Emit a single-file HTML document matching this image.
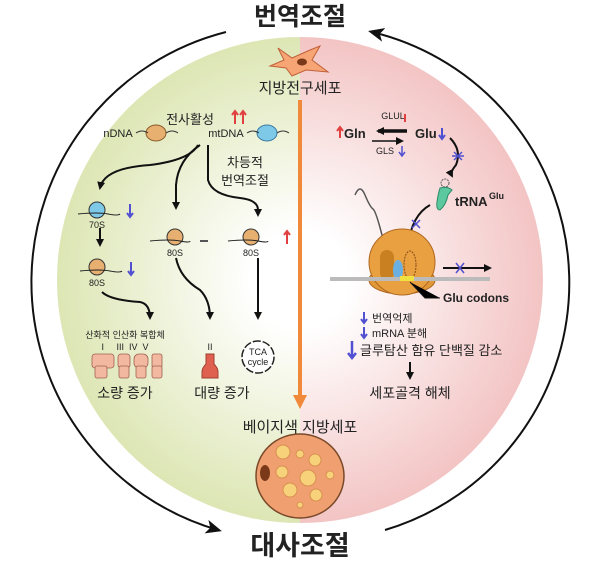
<!DOCTYPE html>
<html><head><meta charset="utf-8"><style>
html,body{margin:0;padding:0;background:#fff;width:600px;height:571px;overflow:hidden}
text{font-family:"Liberation Sans","Noto Sans CJK KR",sans-serif}
.k{font-family:"Liberation Sans","Noto Sans CJK KR",sans-serif;fill:#222}
</style></head><body>
<svg width="600" height="571" viewBox="0 0 600 571" xmlns="http://www.w3.org/2000/svg">
<defs>
<radialGradient id="gl" cx="300" cy="280" r="243" gradientUnits="userSpaceOnUse">
<stop offset="0.2" stop-color="#ffffff"/><stop offset="1" stop-color="#dde6b4"/></radialGradient>
<radialGradient id="pk" cx="300" cy="280" r="243" gradientUnits="userSpaceOnUse">
<stop offset="0.2" stop-color="#ffffff"/><stop offset="1" stop-color="#f3c4c4"/></radialGradient>
<clipPath id="cl"><rect x="0" y="0" width="300" height="571"/></clipPath>
<clipPath id="cr"><rect x="300" y="0" width="300" height="571"/></clipPath>
<marker id="ah" markerWidth="8" markerHeight="8" refX="6" refY="4" orient="auto" markerUnits="userSpaceOnUse"><path d="M0,0 L8,4 L0,8 z" fill="#111"/></marker>
<marker id="ab" markerWidth="16" markerHeight="14" refX="12" refY="7" orient="auto" markerUnits="userSpaceOnUse"><path d="M0,0 L16,7 L0,14 L4,7 z" fill="#111"/></marker>
<marker id="ao" markerWidth="14" markerHeight="14" refX="10" refY="7" orient="auto" markerUnits="userSpaceOnUse"><path d="M0,0 L14,7 L0,14 z" fill="#f08a3a"/></marker>
</defs>
<circle cx="300" cy="280" r="243" fill="url(#gl)" clip-path="url(#cl)"/>
<circle cx="300" cy="280" r="243" fill="url(#pk)" clip-path="url(#cr)"/>
<!-- outer arcs -->
<path d="M226,32 A258,258 0 0 0 218,530" fill="none" stroke="#111" stroke-width="2" marker-end="url(#ab)"/>
<path d="M385,530 A258,258 0 0 0 372,32" fill="none" stroke="#111" stroke-width="2" marker-end="url(#ab)"/>
<text x="300" y="25" text-anchor="middle" font-size="25" font-weight="bold" class="k">번역조절</text>
<text x="300" y="555" text-anchor="middle" font-size="27" font-weight="bold" class="k">대사조절</text>
<!-- preadipocyte -->
<path d="M278,48 L292,58 L310,50 L320,46 L312,60 L328,72 L306,70 L292,76 L286,68 L270,66 L284,60 z" fill="#f7a574" stroke="#c0603a" stroke-width="1"/>
<ellipse cx="302" cy="62" rx="5" ry="3.5" fill="#7a3a1a"/>
<text x="300" y="93" text-anchor="middle" font-size="15" class="k">지방전구세포</text>
<!-- orange arrow -->
<line x1="300" y1="100" x2="300" y2="405" stroke="#f08a3a" stroke-width="4" marker-end="url(#ao)"/>
<text x="300" y="432" text-anchor="middle" font-size="15" class="k">베이지색 지방세포</text>
<!-- beige cell -->
<ellipse cx="300" cy="476" rx="44" ry="42" fill="#f0a070" stroke="#7a4a2a" stroke-width="1.5"/>
<g fill="#f7d27a" stroke="#d89050" stroke-width="1">
<circle cx="283" cy="452" r="7"/><circle cx="300" cy="454" r="4"/><circle cx="315" cy="460" r="6"/><circle cx="282" cy="472" r="6"/>
<circle cx="308" cy="478" r="8"/><circle cx="290" cy="490" r="7"/><circle cx="316" cy="495" r="6"/><circle cx="330" cy="475" r="4"/><circle cx="300" cy="505" r="3"/>
</g>
<ellipse cx="265" cy="473" rx="5" ry="8" fill="#7a3a1a"/>
<!-- LEFT -->
<text x="190" y="124" text-anchor="middle" font-size="13" class="k">전사활성</text>
<path d="M235,124 v-12 M232,115 l3,-4 3,4 M243,124 v-12 M240,115 l3,-4 3,4" stroke="#e04040" stroke-width="2" fill="none"/>
<text x="118" y="137" text-anchor="middle" font-size="11" class="k">nDNA</text>
<ellipse cx="156" cy="133" rx="10" ry="8" fill="#e8b070" stroke="#8a5a2a"/>
<path d="M136,133 q6,-4 12,0 M166,133 q6,-4 12,0" stroke="#333" fill="none"/>
<text x="226" y="137" text-anchor="middle" font-size="11" class="k">mtDNA</text>
<ellipse cx="267" cy="133" rx="10" ry="8" fill="#7ec8e8" stroke="#3a7aa0"/>
<path d="M247,133 q6,-4 12,0 M277,133 q6,-4 12,0" stroke="#333" fill="none"/>
<text x="245" y="167" text-anchor="middle" font-size="13" class="k">차등적</text>
<text x="245" y="185" text-anchor="middle" font-size="13" class="k">번역조절</text>
<g fill="none" stroke="#111" stroke-width="2">
<path d="M198,145 Q190,160 150,165 Q104,168 100,188" marker-end="url(#ah)"/>
<path d="M200,145 Q178,160 176,185 L176,208" marker-end="url(#ah)"/>
<path d="M208,145 L208,180 Q212,195 240,198 Q258,200 258,210 L258,215" marker-end="url(#ah)"/>
<path d="M100,228 L100,245" marker-end="url(#ah)"/>
<path d="M102,292 Q110,300 140,302 Q150,304 150,318" marker-end="url(#ah)"/>
<path d="M176,258 Q180,278 200,290 Q210,300 210,318" marker-end="url(#ah)"/>
<path d="M258,258 L258,318" marker-end="url(#ah)"/>
</g>
<!-- ribosomes -->
<g stroke="#333" stroke-width="1">
<circle cx="97" cy="210" r="8" fill="#7ec8e8"/>
<circle cx="97" cy="267" r="8" fill="#e8b070"/>
<circle cx="175" cy="237" r="8" fill="#e8b070"/>
<circle cx="251" cy="237" r="8" fill="#e8b070"/>
</g>
<g stroke="#222" fill="none" stroke-width="1">
<path d="M78,214 q20,-2 30,0 t12,0"/><path d="M80,271 q20,-2 30,0 t12,0"/>
<path d="M150,241 q20,-2 30,0 t10,0"/><path d="M228,241 q20,-2 30,0 t10,0"/>
</g>
<path d="M200,241 h8" stroke="#555" stroke-width="2"/>
<text x="97" y="228" text-anchor="middle" font-size="9" class="k">70S</text>
<text x="97" y="286" text-anchor="middle" font-size="9" class="k">80S</text>
<text x="175" y="256" text-anchor="middle" font-size="9" class="k">80S</text>
<text x="251" y="256" text-anchor="middle" font-size="9" class="k">80S</text>
<g stroke-width="2" fill="none">
<path d="M130,204 v12 M127,213 l3,4 3,-4" stroke="#5050d0"/>
<path d="M131,262 v12 M128,271 l3,4 3,-4" stroke="#5050d0"/>
<path d="M287,244 v-12 M284,235 l3,-4 3,4" stroke="#e04040"/>
</g>
<text x="125" y="338" text-anchor="middle" font-size="9" class="k">산화적 인산화 복합체</text>
<text x="125" y="350" text-anchor="middle" font-size="9" class="k">I &#160; &#160; III &#160;IV &#160;V</text>
<g fill="#f3b8a0" stroke="#a06050" stroke-width="0.8">
<rect x="92" y="354" width="22" height="14" rx="3"/><rect x="95" y="366" width="12" height="12" rx="2"/>
<rect x="118" y="354" width="12" height="14" rx="3"/><rect x="119" y="366" width="10" height="12" rx="2"/>
<rect x="134" y="354" width="14" height="14" rx="5"/><rect x="136" y="366" width="10" height="12" rx="2"/>
<rect x="152" y="354" width="10" height="14" rx="2"/><rect x="152" y="366" width="10" height="12" rx="2"/>
</g>
<text x="125" y="398" text-anchor="middle" font-size="14" class="k">소량 증가</text>
<text x="210" y="350" text-anchor="middle" font-size="9" class="k">II</text>
<path d="M206,354 h8 v10 q4,4 4,8 v6 h-16 v-6 q0,-4 4,-8 z" fill="#e06050" stroke="#a04030"/>
<text x="222" y="398" text-anchor="middle" font-size="14" class="k">대량 증가</text>
<circle cx="258" cy="357" r="16" fill="#fff" stroke="#222" stroke-width="1.5" stroke-dasharray="8,2"/>
<text x="258" y="355" text-anchor="middle" font-size="9" class="k">TCA</text>
<text x="258" y="365" text-anchor="middle" font-size="9" class="k">cycle</text>
<!-- RIGHT -->
<text x="393" y="119" text-anchor="middle" font-size="9" class="k">GLUL</text>
<path d="M405,122 v-8" stroke="#e04040" stroke-width="2"/>
<path d="M340,138 v-10 M337,131 l3,-4 3,4" stroke="#e04040" stroke-width="2" fill="none"/>
<text x="344" y="138" font-size="13" font-weight="bold" class="k">Gln</text>
<path d="M407,131 L378,131" stroke="#111" stroke-width="3.5" marker-end="url(#ah)"/>
<path d="M372,141 L402,141" stroke="#111" stroke-width="1.5" marker-end="url(#ah)"/>
<text x="415" y="138" font-size="13" font-weight="bold" class="k">Glu</text>
<path d="M442,128 v10 M439,135 l3,4 3,-4" stroke="#5050d0" stroke-width="2" fill="none"/>
<text x="385" y="154" text-anchor="middle" font-size="9" class="k">GLS</text>
<path d="M402,146 v9 M399,152 l3,4 3,-4" stroke="#5050d0" stroke-width="1.5" fill="none"/>
<path d="M450,138 Q462,150 456,165 Q450,172 452,176" stroke="#111" stroke-width="2" fill="none" marker-end="url(#ah)"/>
<path d="M454,152 l8,8 M462,152 l-8,8 M452,156 h12" stroke="#5050d0" stroke-width="1.5"/>
<circle cx="445" cy="183" r="4" fill="none" stroke="#555" stroke-dasharray="2,1"/>
<path d="M440,188 q8,-2 12,2 l-4,5 q-2,10 -8,15 q-4,0 -3,-8 q1,-8 3,-14z" fill="#5cc8a0" stroke="#2a8a68"/>
<text x="455" y="206" font-size="13" font-weight="bold" class="k">tRNA</text>
<text x="489" y="199" font-size="9" font-weight="bold" class="k">Glu</text>
<path d="M430,205 Q412,215 408,245 L407,252" stroke="#111" stroke-width="2" fill="none" marker-end="url(#ah)"/>
<path d="M412,220 l8,8 M420,220 l-8,8" stroke="#5050d0" stroke-width="1.5"/>
<path d="M355,195 q5,-12 10,0 t8,14 t10,30 t8,50" stroke="#555" fill="none" stroke-width="1.5"/>
<!-- big ribosome -->
<ellipse cx="402" cy="280" rx="33" ry="14" fill="#e09838" stroke="#b06820"/>
<circle cx="402" cy="262" r="33" fill="#e8a040" stroke="#b06820"/>
<rect x="380" y="250" width="14" height="30" rx="7" fill="#c88020"/>
<ellipse cx="398" cy="270" rx="5" ry="10" fill="#6ab0e0"/>
<ellipse cx="410" cy="265" rx="6" ry="14" fill="none" stroke="#8a4a1a" stroke-dasharray="2,1"/>
<path d="M330,279 L490,279" stroke="#bbb" stroke-width="4"/>
<rect x="400" y="276" width="14" height="5" fill="#f0e040"/>
<path d="M443,268 L490,268" stroke="#111" stroke-width="2" marker-end="url(#ah)"/>
<path d="M456,263 l8,10 M464,263 l-8,10" stroke="#5050d0" stroke-width="1.5"/>
<path d="M410,282 L425,298 L440,298" stroke="#111" stroke-width="1"/>
<text x="443" y="302" font-size="12" font-weight="bold" class="k">Glu codons</text>
<path d="M364,312 v10 M361,319 l3,4 3,-4" stroke="#5050d0" stroke-width="2" fill="none"/>
<text x="372" y="322" font-size="11" class="k">번역억제</text>
<path d="M364,327 v10 M361,334 l3,4 3,-4" stroke="#5050d0" stroke-width="2" fill="none"/>
<text x="372" y="337" font-size="11" class="k">mRNA 분해</text>
<path d="M352,341 v16 M348,353 l4,5 4,-5" stroke="#5050d0" stroke-width="2.5" fill="none"/>
<text x="360" y="355" font-size="13" class="k">글루탐산 함유 단백질 감소</text>
<path d="M410,362 L410,378" stroke="#111" stroke-width="2" marker-end="url(#ah)"/>
<text x="410" y="398" text-anchor="middle" font-size="14" class="k">세포골격 해체</text>
</svg>
</body></html>
